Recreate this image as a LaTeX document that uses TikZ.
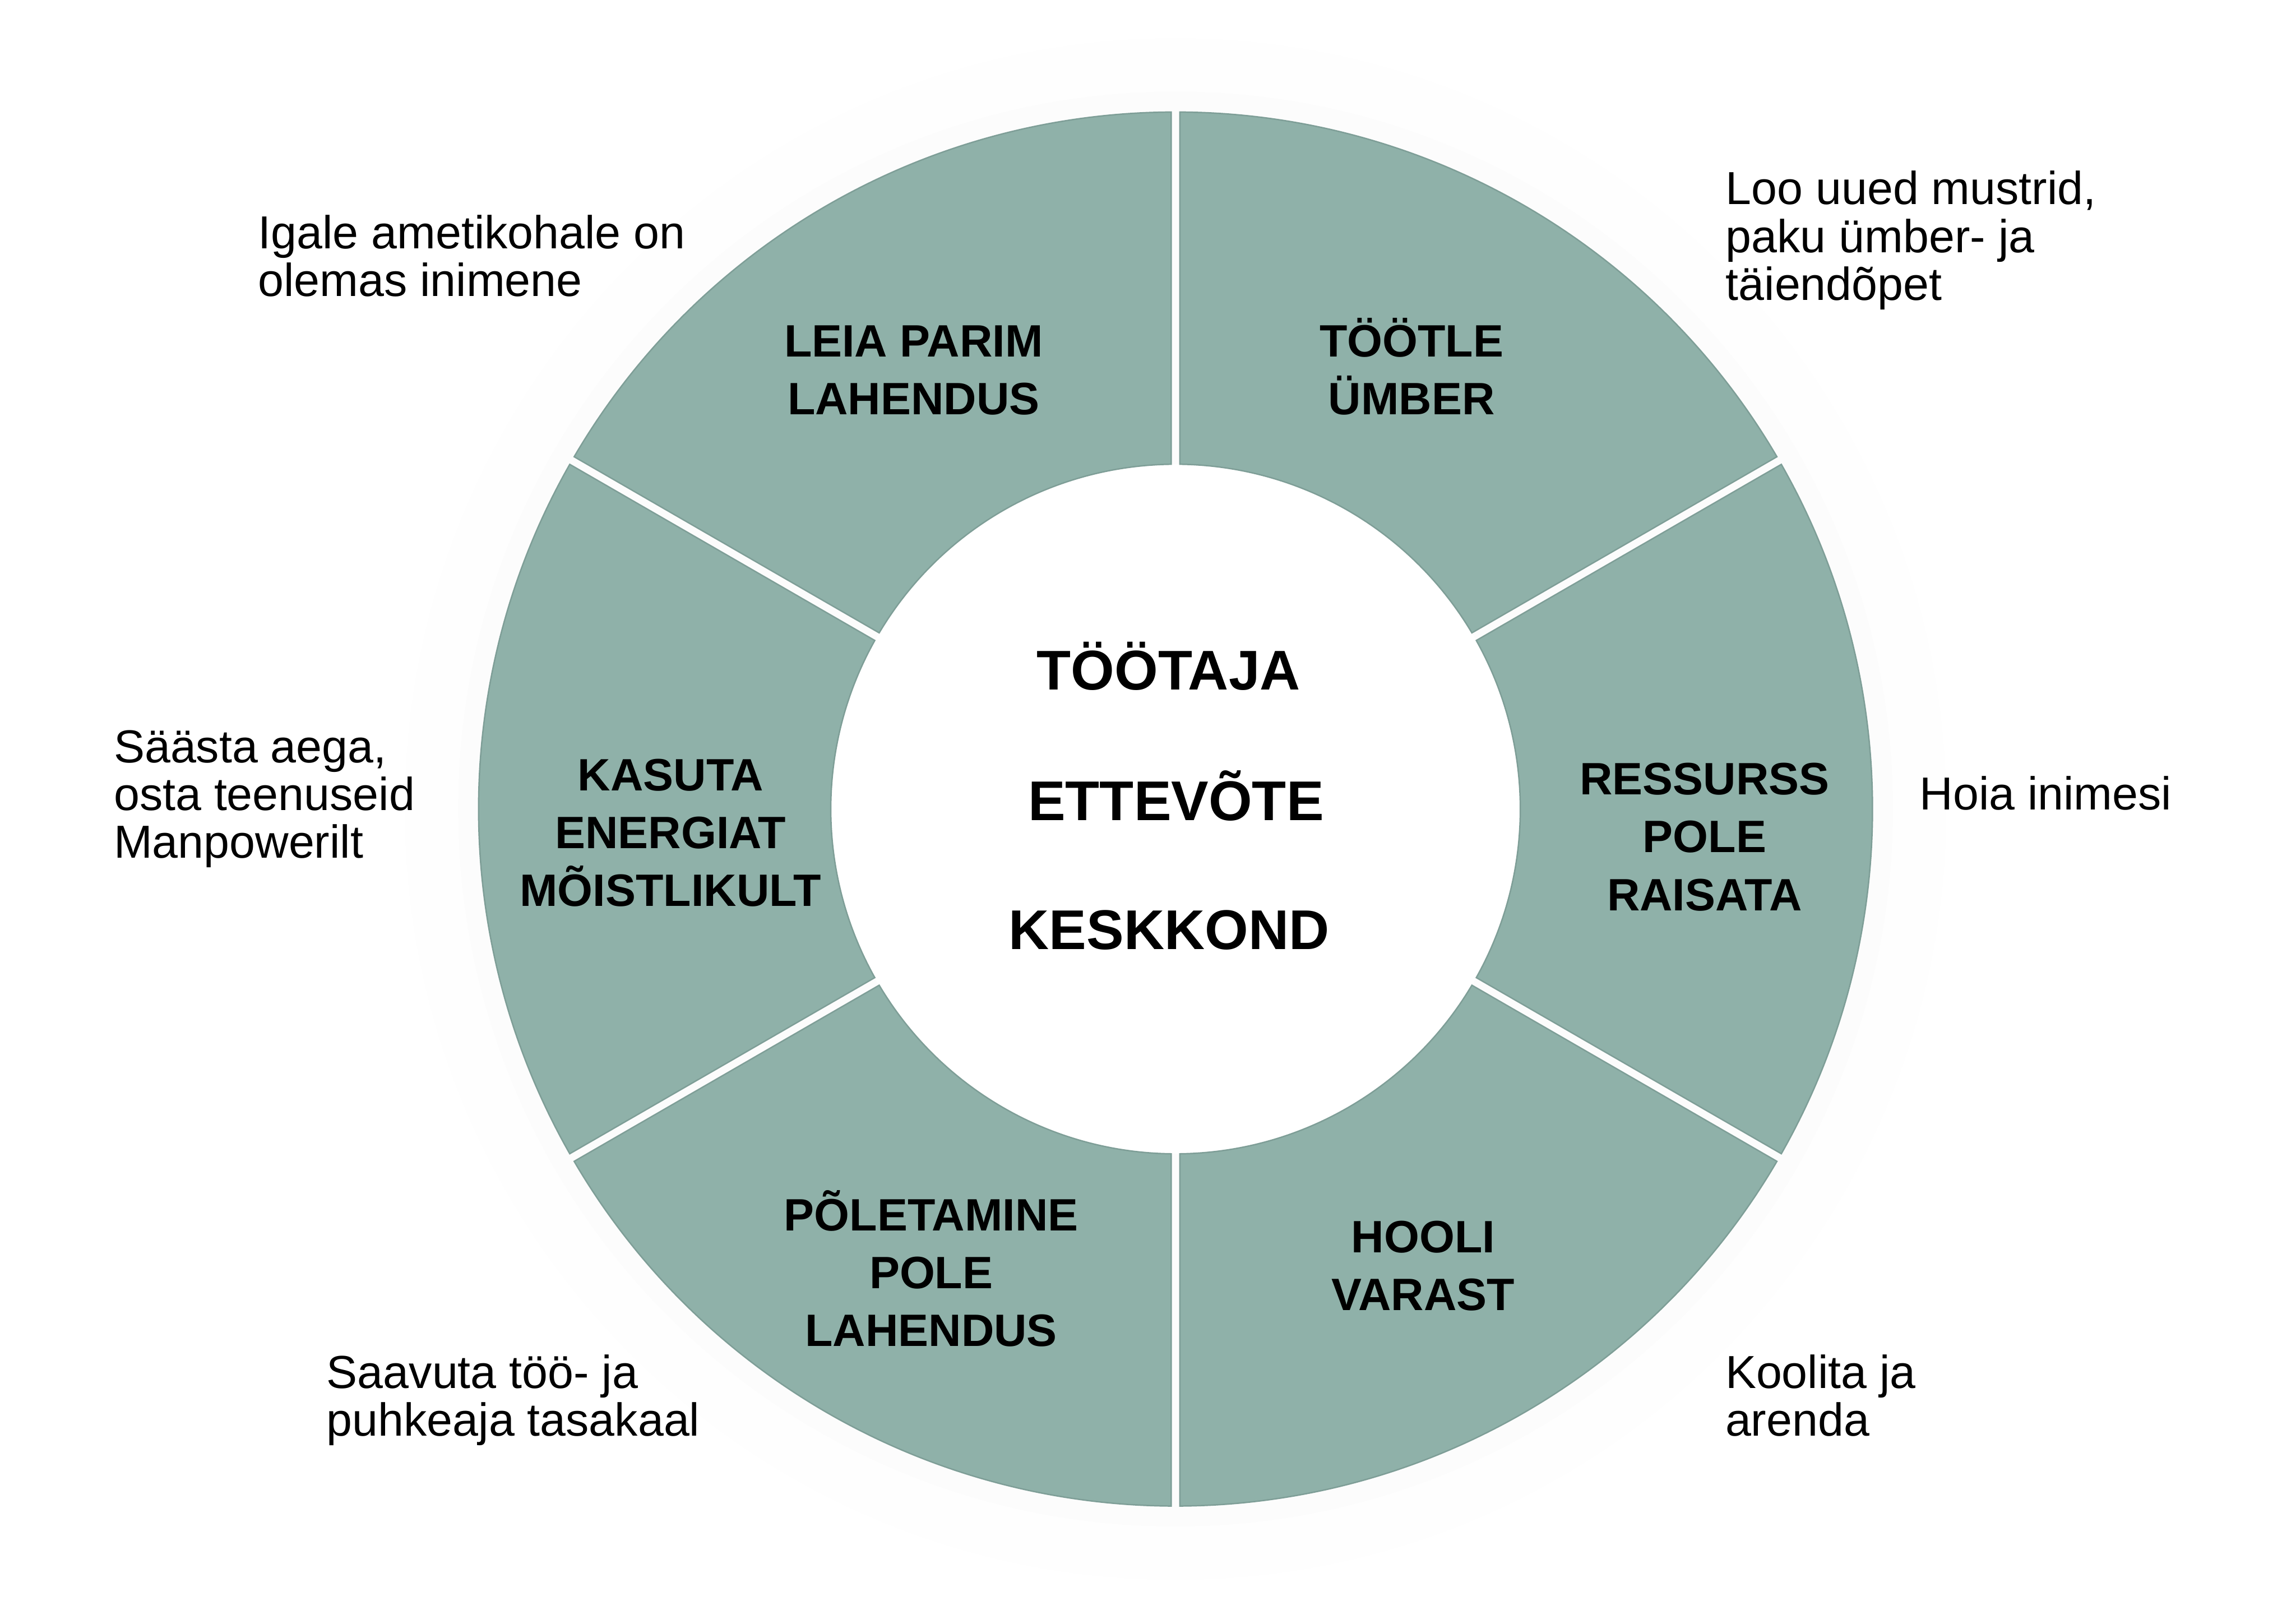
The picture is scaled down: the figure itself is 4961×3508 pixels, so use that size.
\documentclass[tikz,border=0pt]{standalone}
\usepackage{fontspec}
\setmainfont{Liberation Sans}
\definecolor{segfill}{RGB}{143,177,169}
\definecolor{segedge}{RGB}{126,158,151}
\definecolor{haloA}{RGB}{252,252,252}
\definecolor{haloB}{RGB}{254,254,254}
\newcommand{\ctab}[1]{\begin{tabular}[t]{@{}c@{}}#1\end{tabular}}
\newcommand{\ltab}[1]{\begin{tabular}[t]{@{}l@{}}#1\end{tabular}}
\tikzset{
  seglabel/.style={inner sep=0pt, anchor=base, font=\fontsize{9.8}{12.5}\selectfont\bfseries},
  outlabel/.style={inner sep=0pt, anchor=base west, font=\fontsize{10}{10.2}\selectfont},
  centlabel/.style={inner sep=0pt, anchor=base, font=\fontsize{12.1}{14}\selectfont\bfseries},
  segment/.style={fill=segfill, draw=segedge, line width=0.3pt, line join=miter}
}
\begin{document}
\begin{tikzpicture}[x=0.1pt,y=-0.1pt]
\useasboundingbox (0,0) rectangle (4961,3508);
\fill[white] (0,0) rectangle (4961,3508);
\coordinate (c) at (2540,1748);
% faint halo
\fill[haloB] (c) circle[radius=1665];
\fill[haloA] (c) circle[radius=1550];
% white hub
\fill[white] (c) circle[radius=745];
% six ring segments
\begin{scope}[shift={(c)}]
\foreach \a in {30,90,150,210,270,330} {
  \path[segment] (\a+0.3614:1506) arc[start angle=\a+0.3614, end angle=\a+59.6386, radius=1506]
     -- (\a+59.2694:745) arc[start angle=\a+59.2694, end angle=\a+0.7306, radius=745] -- cycle;
}
\end{scope}
% segment labels
\node[seglabel] (s1) at (1974,771) {\ctab{LEIA PARIM\\LAHENDUS}};
\node[seglabel] (s2) at (3050,771) {\ctab{TÖÖTLE\\ÜMBER}};
\node[seglabel] (s3) at (3683,1717) {\ctab{RESSURSS\\POLE\\RAISATA}};
\node[seglabel] (s4) at (3075,2706) {\ctab{HOOLI\\VARAST}};
\node[seglabel] (s5) at (2012,2659) {\ctab{PÕLETAMINE\\POLE\\LAHENDUS}};
\node[seglabel] (s6) at (1449,1708) {\ctab{KASUTA\\ENERGIAT\\MÕISTLIKULT}};
% centre
\node[centlabel] (c1) at (2525,1490) {TÖÖTAJA};
\node[centlabel] (c2) at (2541,1772) {ETTEVÕTE};
\node[centlabel] (c3) at (2526,2051) {KESKKOND};
% outer texts
\node[outlabel] (o1) at (556,537) {\ltab{Igale ametikohale on\\olemas inimene}};
\node[outlabel] (o2) at (3727,442) {\ltab{Loo uued mustrid,\\paku ümber- ja\\täiendõpet}};
\node[outlabel] (o3) at (4146,1749) {Hoia inimesi};
\node[outlabel] (o4) at (3726,2999) {\ltab{Koolita ja\\arenda}};
\node[outlabel] (o5) at (704,2999) {\ltab{Saavuta töö- ja\\puhkeaja tasakaal}};
\node[outlabel] (o6) at (244,1648) {\ltab{Säästa aega,\\osta teenuseid\\Manpowerilt}};
\end{tikzpicture}
\end{document}
